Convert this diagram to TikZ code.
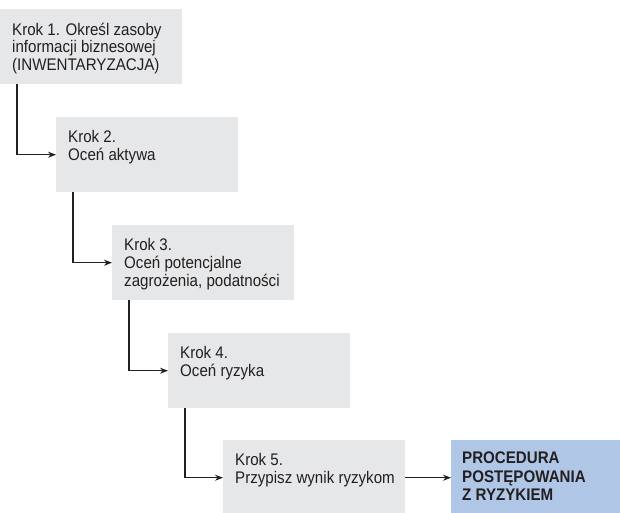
\documentclass[tikz,border=0pt]{standalone}
\usepackage{fontspec}
\setmainfont{Liberation Sans}[FakeStretch=0.9]
\usepackage{tikz}
\usetikzlibrary{arrows.meta,positioning}
\definecolor{szary}{HTML}{E6E7E8}
\definecolor{niebieski}{HTML}{B0C6E7}
\definecolor{tekst}{HTML}{231F20}

\begin{document}
\begin{tikzpicture}[x=1pt, y=-1pt,
    krok/.style={fill=szary, minimum width=182pt, minimum height=75pt, inner sep=0pt, anchor=north west},
    opis/.style={anchor=north west, inner sep=0pt, align=left, text=tekst, font=\fontsize{16.8}{17.8}\selectfont},
    wynik/.style={krok, fill=niebieski, minimum width=169pt},
    arr/.style={-{Stealth[length=8pt, width=6pt]}, line width=1.2pt, draw=tekst}
]
\useasboundingbox (0,0) rectangle (620,512);

\node[krok] (k1) at (0,9) {};
\node[krok] (k2) at (56,117) {};
\node[krok] (k3) at (112,225) {};
\node[krok] (k4) at (168,333) {};
\node[krok] (k5) at (223,440) {};
\node[wynik] (proc) at (451,440) {};

\node[opis] (t1) at ([shift={(12,13.5)}]k1.north west) {Krok 1. Określ zasoby\\informacji biznesowej\\(INWENTARYZACJA)};
\node[opis] (t2) at ([shift={(12,13.5)}]k2.north west) {Krok 2.\\Oceń aktywa};
\node[opis] (t3) at ([shift={(12,13.5)}]k3.north west) {Krok 3.\\Oceń potencjalne\\zagrożenia, podatności};
\node[opis] (t4) at ([shift={(12,13.5)}]k4.north west) {Krok 4.\\Oceń ryzyka};
\node[opis] (t5) at ([shift={(12,13.5)}]k5.north west) {Krok 5.\\Przypisz wynik ryzykom};
\node[opis, font=\fontsize{16.8}{18.5}\selectfont\bfseries] (t6) at ([shift={(11,12)}]proc.north west) {PROCEDURA\\POSTĘPOWANIA\\Z RYZYKIEM};

\draw[arr] ([xshift=17pt]k1.south west) |- (k2.west);
\draw[arr] ([xshift=17pt]k2.south west) |- (k3.west);
\draw[arr] ([xshift=17pt]k3.south west) |- (k4.west);
\draw[arr] ([xshift=17pt]k4.south west) |- (k5.west);
\draw[arr] (k5.east) -- (proc.west);
\end{tikzpicture}
\end{document}
